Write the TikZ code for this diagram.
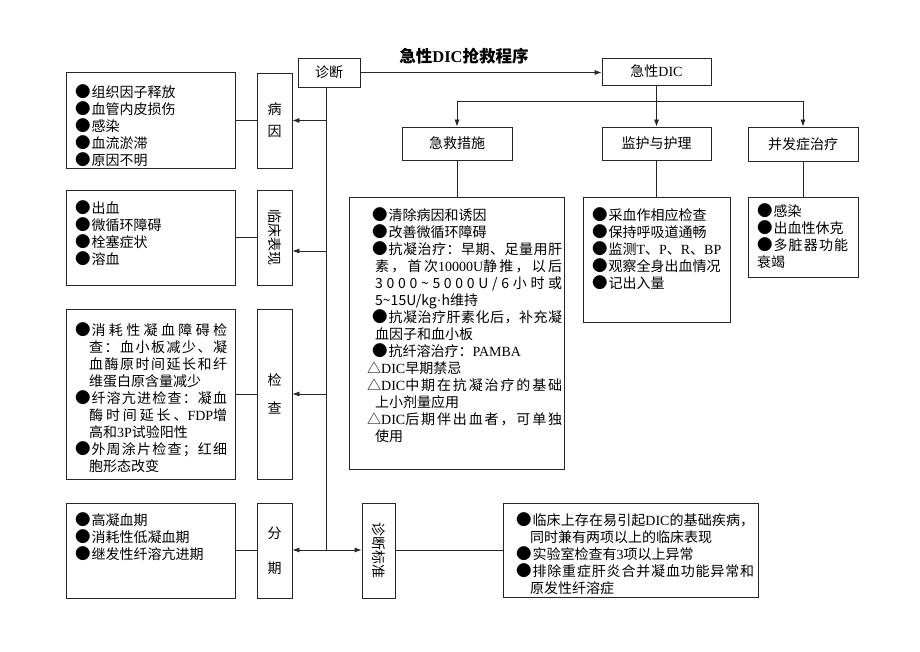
\documentclass[tikz,border=0pt]{standalone}
\usepackage{fontspec}
\setmainfont{Liberation Serif}
\newfontfamily\latf{Liberation Serif}
\newfontfamily\cjkf{Noto Sans CJK SC}
\usetikzlibrary{arrows.meta}
\XeTeXinterchartokenstate=1
\newXeTeXintercharclass\cjkcls
\newcount\cjkcnt
\def\setcjk#1#2{\cjkcnt=#1\relax\loop\XeTeXcharclass\cjkcnt=\cjkcls\relax\ifnum\cjkcnt<#2\relax\advance\cjkcnt by 1\relax\repeat}
\setcjk{"4E00}{"9FFF}
\setcjk{"3000}{"303F}
\setcjk{"FF00}{"FFEF}
\setcjk{"25A0}{"25FF}
\XeTeXcharclass"00B7=0
\XeTeXinterchartoks 0 \cjkcls = {\cjkf}
\XeTeXinterchartoks 4095 \cjkcls = {\cjkf}
\XeTeXinterchartoks \cjkcls 0 = {\latf}
\XeTeXinterchartoks \cjkcls \cjkcls = {\hskip 0pt plus 3pt\relax}
\newcommand\fsz{\fontsize{14}{17}\selectfont\tolerance=10000\hbadness=10000\relax}
\newcommand\jst{\leftskip=0pt\rightskip=0pt\parfillskip=0pt plus 1fil\relax}
\newcommand\bul{\mbox{\fontsize{15.5}{17}\selectfont ●}\hspace{0.8pt}}
\newcommand\itm{\par\hangindent=14pt\hangafter=1 \bul}
\newcommand\itmb{\par\hangindent=8pt\hangafter=1\hspace*{5pt}\bul}
\newcommand\itmt{\par\hangindent=8pt\hangafter=1 △}
\begin{document}
\begin{tikzpicture}[x=1pt,y=-1pt,
  bx/.style={draw=black!85, line width=0.8pt, inner sep=0pt, font=\fsz},
  txt/.style={anchor=north west, inner sep=0pt, font=\fsz, text width=#1},
  ln/.style={draw=black!85, line width=0.8pt},
  arr/.style={ln, -{Latex[length=7pt,width=5pt]}}]
\path[fill=white, use as bounding box] (0,0) rectangle (920,652);
% top row
\node[font=\fontsize{16.5}{20}\selectfont\bfseries] (title) at (464,56) {急性DIC抢救程序};
\node[bx, minimum width=62pt, minimum height=29pt] (zd) at (329,72.5) {诊断};
\node[bx, minimum width=109pt, minimum height=27pt] (jx) at (656.5,71.5) {急性DIC};
\node[bx, minimum width=110pt, minimum height=33pt] (jj) at (457,143.5) {急救措施};
\node[bx, minimum width=109pt, minimum height=33pt] (jh) at (656.5,143.5) {监护与护理};
\node[bx, minimum width=110pt, minimum height=34pt] (bf) at (803,144) {并发症治疗};
\node[bx, minimum width=215pt, minimum height=272pt] (jjd) at (456.5,333) {};
\node[bx, minimum width=147pt, minimum height=125pt] (jhd) at (656.5,259.5) {};
\node[bx, minimum width=110pt, minimum height=80pt] (bfd) at (803,237) {};
% left column
\node[bx, minimum width=169pt, minimum height=96pt] (byd) at (150.5,120) {};
\node[bx, minimum width=35pt, minimum height=95pt, align=center, font=\fontsize{14}{22}\selectfont] (by) at (274.5,120.5) {病\\因};
\node[bx, minimum width=169pt, minimum height=95pt] (lcd) at (150.5,237.5) {};
\node[bx, minimum width=35pt, minimum height=95pt] (lc) at (274.5,237.5) {};
\node[rotate=-90, font=\fsz, inner sep=0pt] (lct) at (lc) {临床表现};
\node[bx, minimum width=169pt, minimum height=170pt] (jcd) at (150.5,394) {};
\node[bx, minimum width=35pt, minimum height=170pt, align=center, font=\fontsize{14}{28}\selectfont] (jc) at (274.5,394) {检\\查};
\node[bx, minimum width=169pt, minimum height=95pt] (fqd) at (150.5,550.5) {};
\node[bx, minimum width=35pt, minimum height=95pt, align=center, font=\fontsize{14}{35}\selectfont] (fq) at (274.5,550.5) {分\\期};
\node[bx, minimum width=33pt, minimum height=95pt] (zb) at (378.5,550.5) {};
\node[rotate=-90, font=\fsz, inner sep=0pt] (zbt) at (zb) {诊断标准};
\node[bx, minimum width=255pt, minimum height=94pt] (zbd) at (630.5,550) {};
% texts
\node[txt=155pt] (bydt) at (75,80) {\jst\itm 组织因子释放
\itm 血管内皮损伤
\itm 感染
\itm 血流淤滞
\itm 原因不明\par};
\node[txt=155pt] (lcdt) at (75,196) {\jst\itm 出血
\itm 微循环障碍
\itm 栓塞症状
\itm 溶血\par};
\node[txt=152pt] (jcdt) at (75,318) {\jst\itm 消耗性凝血障碍检\break 查：血小板减少、凝\break 血酶原时间延长和纤\break 维蛋白原含量减少
\itm 纤溶亢进检查：凝血\break 酶时间延长、FDP增\break 高和3P试验阳性
\itm 外周涂片检查；红细\break 胞形态改变\par};
\node[txt=155pt] (fqdt) at (75,508) {\jst\itm 高凝血期
\itm 消耗性低凝血期
\itm 继发性纤溶亢进期\par};
\node[txt=195pt] (jjdt) at (367,203) {\jst\itmb 清除病因和诱因
\itmb 改善微循环障碍
\itmb 抗凝治疗：早期、足量用肝\break 素，首次10000U静推，以后\break 3\hfil 0\hfil 0\hfil 0\hfil \textasciitilde\hfil 5\hfil 0\hfil 0\hfil 0\hfil U\hfil /\hfil 6\hfil 小\hfil 时\hfil 或\break 5\textasciitilde 15U/kg{\latf ·}h维持
\itmb 抗凝治疗肝素化后，补充凝\break 血因子和血小板
\itmb 抗纤溶治疗：PAMBA
\itmt DIC早期禁忌
\itmt DIC中期在抗凝治疗的基础\break 上小剂量应用
\itmt DIC后期伴出血者，可单独\break 使用\par};
\node[txt=135pt] (jhdt) at (592,203) {\jst\itm 采血作相应检查
\itm 保持呼吸道通畅
\itm 监测T、P、R、BP
\itm 观察全身出血情况
\itm 记出入量\par};
\node[txt=91pt] (bfdt) at (757,203) {\jst\bul 感染\par \bul 出血性休克\par \bul 多脏器功能\break 衰竭\par};
\node[txt=238pt] (zbdt) at (516,508) {\jst\itm 临床上存在易引起DIC的基础疾病，\break 同时兼有两项以上的临床表现
\itm 实验室检查有3项以上异常
\itm 排除重症肝炎合并凝血功能异常和\break 原发性纤溶症\par};
% connectors
\coordinate (vt) at (326,87);
\coordinate (vb) at (326,550);
\coordinate (a2) at (326,251);
\coordinate (hl) at (457,101);
\coordinate (hr) at (803,101);
\draw[ln] (vt) -- (vb);
\draw[arr] (vt |- by.east) -- (by.east);
\draw[arr] (a2) -- (a2 -| lc.east);
\draw[arr] (vt |- jc.east) -- (jc.east);
\draw[arr] (vb) -- (vb -| fq.east);
\draw[arr] (vb) -- (vb -| zb.west);
\draw[ln] (byd.east) -- (byd.east -| by.west);
\draw[ln] (lcd.east) -- (lcd.east -| lc.west);
\draw[ln] (jcd.east) -- (jcd.east -| jc.west);
\draw[ln] (vb -| fqd.east) -- (vb -| fq.west);
\draw[ln] (vb -| zb.east) -- (vb -| zbd.west);
\draw[arr] (zd.east) -- (zd.east -| jx.west);
\draw[arr] (jx.south) -- (jx.south |- jh.north);
\draw[ln] (hl) -- (hr);
\draw[arr] (hl) -- (hl |- jj.north);
\draw[arr] (hr) -- (hr |- bf.north);
\draw[ln] (jj.south) -- (jj.south |- jjd.north);
\draw[ln] (jh.south) -- (jh.south |- jhd.north);
\draw[ln] (bf.south) -- (bf.south |- bfd.north);
\end{tikzpicture}
\end{document}
